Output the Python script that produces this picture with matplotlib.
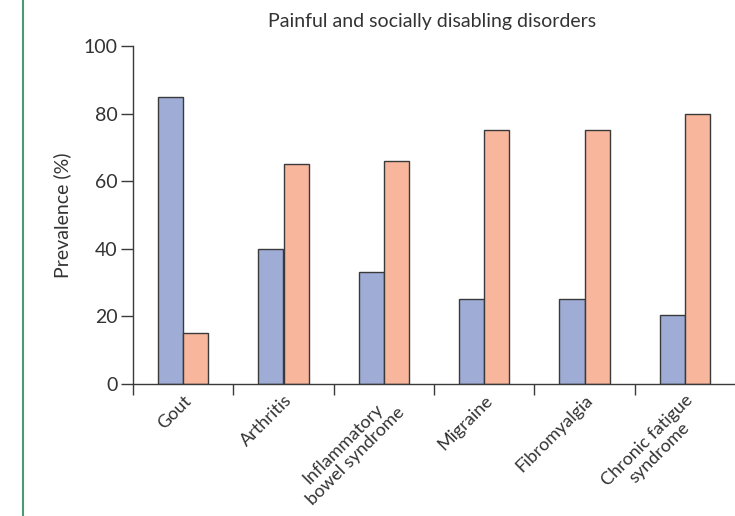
import numpy as np
import matplotlib
matplotlib.use("Agg")
import matplotlib.pyplot as plt
from matplotlib.lines import Line2D

plt.rcParams['font.family'] = ['Lato', 'DejaVu Sans']

categories = ["Gout", "Arthritis", "Inflammatory\nbowel syndrome", "Migraine",
              "Fibromyalgia", "Chronic fatigue\nsyndrome"]
blue_vals = [85, 40, 33, 25, 25, 20.5]
orange_vals = [15, 65, 66, 75, 75, 80]

blue = '#9eacd6'
orange = '#f8b69c'
edge = '#3a3a3a'
txt = '#333333'

fig = plt.figure(figsize=(7.35, 5.16), dpi=100)
ax = fig.add_axes([133/735, 0.256, 1 - 133/735, 0.655])

x = np.arange(len(categories))
w = 0.25
ax.bar(x - w/2, blue_vals, w, color=blue, edgecolor=edge, linewidth=1.0)
ax.bar(x + w/2, orange_vals, w, color=orange, edgecolor=edge, linewidth=1.0)

ax.set_xlim(-0.5, 5.5)
ax.set_ylim(0, 100)
ax.set_yticks([0, 20, 40, 60, 80, 100])
ax.tick_params(axis='y', labelsize=14, colors=edge, labelcolor=txt, length=9, width=1, pad=2)

# boundary ticks on x axis, labels at category centres
ax.set_xticks(np.arange(-0.5, 5, 1))
ax.set_xticklabels([])
ax.tick_params(axis='x', which='major', length=8, width=1, colors=edge, direction='out')
ax.set_xticks(x, minor=True)
ax.set_xticklabels(categories, minor=True, rotation=45, ha='right', va='top',
                   rotation_mode='anchor', fontsize=13, color=txt,
                   multialignment='center', linespacing=1.08)
ax.tick_params(axis='x', which='minor', length=0, pad=6)

for s in ['top', 'right']:
    ax.spines[s].set_visible(False)
ax.spines['left'].set_color(edge)
ax.spines['bottom'].set_color(edge)
ax.spines['left'].set_linewidth(1)
ax.spines['bottom'].set_linewidth(1)

ax.set_ylabel("Prevalence (%)", fontsize=14, color=txt, labelpad=9)
fig.text(0.588, 0.958, "Painful and socially disabling disorders", ha='center', va='center',
         fontsize=14, color=txt)

# green rule on the left margin
fig.add_artist(Line2D([23/735, 23/735], [0, 1], transform=fig.transFigure,
                      color='#4a9a78', linewidth=1.5))

plt.savefig("out.png", dpi=100)
